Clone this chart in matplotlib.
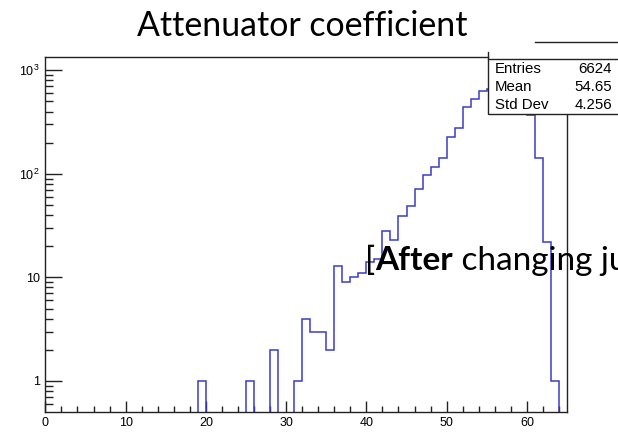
import numpy as np
import matplotlib
matplotlib.use('Agg')
import matplotlib.pyplot as plt
from matplotlib.patches import Rectangle
from matplotlib.lines import Line2D
from matplotlib.ticker import FixedLocator, MultipleLocator, NullFormatter

plt.rcParams['mathtext.fontset'] = 'custom'
plt.rcParams['mathtext.rm'] = 'Liberation Sans'
plt.rcParams['font.family'] = ['Liberation Sans', 'DejaVu Sans']

# ---------------- data ----------------
title_text = "Attenuator coefficient"
bin_edges = np.arange(0, 66)          # 65 bins of width 1, range 0..65
counts = [0, 0, 0, 0, 0, 0, 0, 0, 0, 0,
          0, 0, 0, 0, 0, 0, 0, 0, 0, 1,
          0, 0, 0, 0, 0, 1, 0, 0, 2, 0,
          0, 1, 4, 3, 3, 2, 13, 9, 10, 11,
          14, 15, 28, 23, 39, 49, 71, 98, 117, 142,
          226, 280, 447, 527, 638, 665, 900, 800, 550, 399,
          370, 142, 22, 1, 0]
stat_names = ["Entries", "Mean", "Std Dev"]
stat_values = ["6624", "54.65", "4.256"]
x_ticks = [0, 10, 20, 30, 40, 50, 60]
y_ticks = [1, 10, 100, 1000]
y_tick_labels = ["1", "10", r"$\mathregular{10^{2}}$", r"$\mathregular{10^{3}}$"]

# ---------------- figure ----------------
W, H = 618, 433
fig = plt.figure(figsize=(W / 100, H / 100), dpi=100)

def fx(x):
    return x / W

def fy(y):
    return 1 - y / H

ax_l, ax_r, ax_t, ax_b = 45.4, 567.0, 56.5, 411.7
ax = fig.add_axes([fx(ax_l), fy(ax_b), fx(ax_r - ax_l), (ax_b - ax_t) / H])

vals = np.array(counts, dtype=float)
draw_vals = np.where(vals > 0, vals, 1e-3)
ax.stairs(draw_vals, bin_edges, color='#3c3cc8', lw=1.1, baseline=None, zorder=2)

ax.set_yscale('log')
ax.set_xlim(0, 65)
ax.set_ylim(0.505, 1360)

for s in ['top', 'right']:
    ax.spines[s].set_visible(False)
for s in ['left', 'bottom']:
    ax.spines[s].set_linewidth(1.0)
    ax.spines[s].set_color('#222222')

ax.xaxis.set_major_locator(FixedLocator(x_ticks))
ax.xaxis.set_minor_locator(MultipleLocator(2))
ax.set_xticklabels([str(v) for v in x_ticks])
ax.yaxis.set_major_locator(FixedLocator(y_ticks))
ax.set_yticklabels(y_tick_labels)
minor_y = [m * 10.0 ** e for e in range(-1, 4) for m in range(2, 10)]
ax.yaxis.set_minor_locator(FixedLocator(minor_y))
ax.yaxis.set_minor_formatter(NullFormatter())

ax.tick_params(axis='x', which='major', direction='in', length=8, width=1, pad=4,
               labelsize=9, color='#222222', top=False)
ax.tick_params(axis='x', which='minor', direction='in', length=4.3, width=1, top=False,
               color='#222222')
ax.tick_params(axis='y', which='major', direction='in', length=12, width=1, pad=4,
               labelsize=9, color='#222222', right=False)
ax.tick_params(axis='y', which='minor', direction='in', length=6, width=1, right=False,
               color='#222222')

# frame pieces (top and right) drawn manually
box_l, box_t, box_b = 488.3, 58.5, 113.5
fig.add_artist(Line2D([fx(ax_l), fx(box_l)], [fy(ax_t), fy(ax_t)], color='#222222', lw=1.0))
fig.add_artist(Line2D([fx(ax_r), fx(ax_r)], [fy(box_b), fy(ax_b)], color='#222222', lw=1.0))
fig.add_artist(Line2D([fx(box_l), fx(box_l)], [fy(51.5), fy(box_t)], color='#222222', lw=1.0))
fig.add_artist(Line2D([fx(535), fx(W + 5)], [fy(42), fy(42)], color='#222222', lw=1.0))

# stats box
box = Rectangle((fx(box_l), fy(box_b)), fx(W + 10 - box_l), (box_b - box_t) / H,
                transform=fig.transFigure, facecolor='white', edgecolor='#222222',
                lw=1.0, zorder=5)
fig.add_artist(box)
row_y = [69.0, 87.0, 105.0]
for name, val, yy in zip(stat_names, stat_values, row_y):
    fig.text(fx(495), fy(yy), name, ha='left', va='center', fontsize=10.8,
             family='Liberation Sans', zorder=6)
    fig.text(fx(612), fy(yy), val, ha='right', va='center', fontsize=10.8,
             family='Liberation Sans', zorder=6)

# slide title
fig.text(fx(137), fy(36), title_text, ha='left', va='baseline', fontsize=24.4,
         family='Lato', zorder=6)

# overlaid slide text "[After changing ju"
fig.canvas.draw()
renderer = fig.canvas.get_renderer()
x0 = fx(365)
parts = [("[", 'normal'), ("After", 'bold'), (" changing ju", 'normal')]
for txt, wt in parts:
    t = fig.text(x0, fy(270), txt, ha='left', va='baseline', fontsize=24,
                 family='Lato', weight=wt, zorder=7)
    bb = t.get_window_extent(renderer)
    x0 = x0 + bb.width / W

fig.savefig('out.png', dpi=100)
